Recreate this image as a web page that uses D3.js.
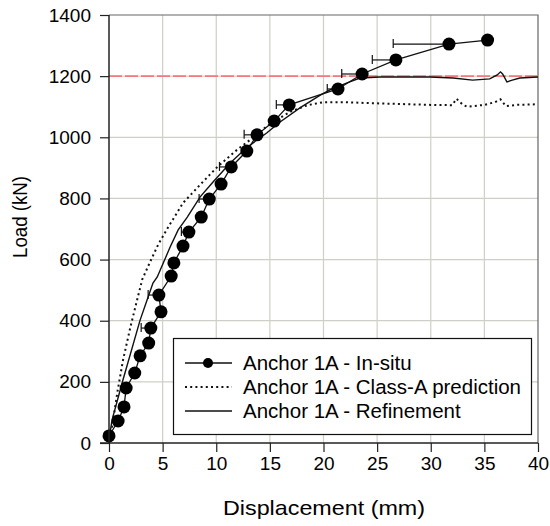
<!DOCTYPE html>
<html><head><meta charset="utf-8">
<script src="https://cdn.jsdelivr.net/npm/d3@7"></script>
<style>body{margin:0;background:#fff} text{font-family:"Liberation Sans",Arial,sans-serif;fill:#000}</style>
</head><body><svg id="c" width="550" height="526"></svg>
<script>
const xTicks=[0,5,10,15,20,25,30,35,40];
const yTicks=[0,200,400,600,800,1000,1200,1400];
const insituX=[0,0.85,1.4,1.6,2.4,2.9,3.7,3.9,4.85,4.65,5.8,6.05,6.9,7.45,8.6,9.35,10.45,11.4,12.85,13.8,15.4,16.8,21.35,23.6,26.75,31.7,35.3];
const insituY=[23,72,118,180,229,285,327,376,429,484,546,589,644,690,739,798,847,903,955,1008,1053,1106,1158,1207,1253,1305,1318];
const insituErrMinus=[0,0,0,0,0,0,0,0.9,0,1.0,0,0,0,0.7,0,0.95,0,1.1,0,1.2,0,1.2,1.0,1.9,2.2,5.2,0];
const predX=[0,0.3,0.8,1.3,2.0,2.6,3.1,3.8,4.6,5.5,6.9,8.5,10.1,11.9,13.1,14.3,15.5,17,18.5,20,22,24,26,28,30,32,32.4,33,33.4,35,36,36.5,37,38,40];
const predY=[0,55,170,270,380,465,535,590,650,705,785,845,903,958,990,1025,1055,1085,1105,1115,1115,1112,1110,1108,1106,1105,1126,1106,1100,1106,1115,1124,1102,1106,1108];
const refX=[0,0.1,0.28,1.3,2.9,3.55,4.1,4.5,5.7,6.45,7.3,8.5,9.7,11.3,12.9,14.7,15.95,17.8,19.7,20.6,22.2,23.4,25.3,27.1,29.9,32.1,33.9,35.5,36.2,36.5,36.7,37.1,37.6,38.3,40];
const refY=[0,33,75,206,402,468,523,543,641,697,739,805,854,916,968,1014,1050,1096,1138,1155,1178,1194,1197,1197,1197,1194,1187,1191,1204,1214,1207,1181,1187,1194,1197];
const referenceLoad=1200;
const legendLabels=["Anchor 1A - In-situ","Anchor 1A - Class-A prediction","Anchor 1A - Refinement"];
const xTitle="Displacement (mm)", yTitle="Load (kN)";

const svg=d3.select("#c");
const x=d3.scaleLinear().domain([0,40]).range([109,538]);
const y=d3.scaleLinear().domain([0,1400]).range([443,15]);

// grid
const g=svg.append("g");
g.selectAll(".vg").data(xTicks.slice(1,-1)).join("line")
 .attr("x1",d=>x(d)).attr("x2",d=>x(d)).attr("y1",y(0)).attr("y2",y(1400))
 .attr("stroke","#cfcfc8").attr("stroke-width",1.2);
g.selectAll(".hg").data(yTicks.slice(1,-1)).join("line")
 .attr("y1",d=>y(d)).attr("y2",d=>y(d)).attr("x1",x(0)).attr("x2",x(40))
 .attr("stroke","#cfcfc8").attr("stroke-width",1.2);
// frame top/right
svg.append("path").attr("d",`M${x(0)},${y(1400)}H${x(40)}V${y(0)}`)
 .attr("fill","none").attr("stroke","#666").attr("stroke-width",1.2);

// reference line
svg.append("line").attr("x1",x(0)).attr("x2",x(40)).attr("y1",y(referenceLoad)).attr("y2",y(referenceLoad))
 .attr("stroke","#f07c7c").attr("stroke-width",1.8).attr("stroke-dasharray","13,3");

const line=d3.line().x(d=>x(d[0])).y(d=>y(d[1]));
// prediction dotted
svg.append("path").datum(predX.map((v,i)=>[v,predY[i]])).attr("d",line)
 .attr("fill","none").attr("stroke","#111").attr("stroke-width",2).attr("stroke-dasharray","2,3.2");
// refinement
svg.append("path").datum(refX.map((v,i)=>[v,refY[i]])).attr("d",line)
 .attr("fill","none").attr("stroke","#111").attr("stroke-width",1.4);
// in-situ
const ins=insituX.map((v,i)=>[v,insituY[i],insituErrMinus[i]]);
svg.append("path").datum(ins).attr("d",line).attr("fill","none").attr("stroke","#111").attr("stroke-width",1.3);
const eb=svg.append("g").selectAll("g").data(ins.filter(d=>d[2]>0)).join("g");
eb.append("line").attr("x1",d=>x(d[0]-d[2])).attr("x2",d=>x(d[0])).attr("y1",d=>y(d[1])).attr("y2",d=>y(d[1]))
 .attr("stroke","#111").attr("stroke-width",1.2);
eb.append("line").attr("x1",d=>x(d[0]-d[2])).attr("x2",d=>x(d[0]-d[2])).attr("y1",d=>y(d[1])-5).attr("y2",d=>y(d[1])+4)
 .attr("stroke","#111").attr("stroke-width",1.2);
svg.append("g").selectAll("circle").data(ins).join("circle")
 .attr("cx",d=>x(d[0])).attr("cy",d=>y(d[1])).attr("r",6.5).attr("fill","#000");

// axes
const xa=svg.append("g").attr("transform",`translate(0,${y(0)})`)
 .call(d3.axisBottom(x).tickValues(xTicks).tickFormat(d3.format("d")).tickSizeInner(9).tickSizeOuter(0).tickPadding(5));
const ya=svg.append("g").attr("transform",`translate(${x(0)},0)`)
 .call(d3.axisLeft(y).tickValues(yTicks).tickFormat(d3.format("d")).tickSizeInner(9).tickSizeOuter(0).tickPadding(9));
[xa,ya].forEach(a=>{a.select(".domain").attr("stroke","#222").attr("stroke-width",1.5);
 a.selectAll(".tick line").attr("stroke","#222").attr("stroke-width",1.2);
 a.selectAll(".tick text").attr("font-size",19).attr("font-family","Liberation Sans, Arial, sans-serif").attr("fill","#000");});
ya.select(".domain").attr("d",`M0,${y(0)}V${y(1400)}`);
xa.select(".domain").attr("d",`M${x(0)-9},0H${x(40)}`);

// titles
svg.append("text").attr("x",324).attr("y",515).attr("text-anchor","middle").attr("font-size",21)
 .attr("textLength",202).attr("lengthAdjust","spacingAndGlyphs").text(xTitle);
svg.append("text").attr("transform","translate(27,217) rotate(-90)").attr("text-anchor","middle").attr("font-size",21)
 .attr("textLength",82).attr("lengthAdjust","spacingAndGlyphs").text(yTitle);

// legend
const lg=svg.append("g");
lg.append("rect").attr("x",173.5).attr("y",338.5).attr("width",358).attr("height",96)
 .attr("fill","#fff").attr("stroke","#111").attr("stroke-width",1.2);
const rows=[363,387,411];
legendLabels.forEach((t,i)=>{
 const ln=lg.append("line").attr("x1",185).attr("x2",232).attr("y1",rows[i]).attr("y2",rows[i]).attr("stroke","#111");
 if(i===0){ln.attr("stroke-width",1.3);lg.append("circle").attr("cx",208).attr("cy",rows[i]).attr("r",5).attr("fill","#000");}
 if(i===1){ln.attr("stroke-width",2).attr("stroke-dasharray","2,3.2");}
 if(i===2){ln.attr("stroke-width",1.4);}
 lg.append("text").attr("x",243).attr("y",rows[i]+7).attr("font-size",20.5).text(t);
});
</script></body></html>
